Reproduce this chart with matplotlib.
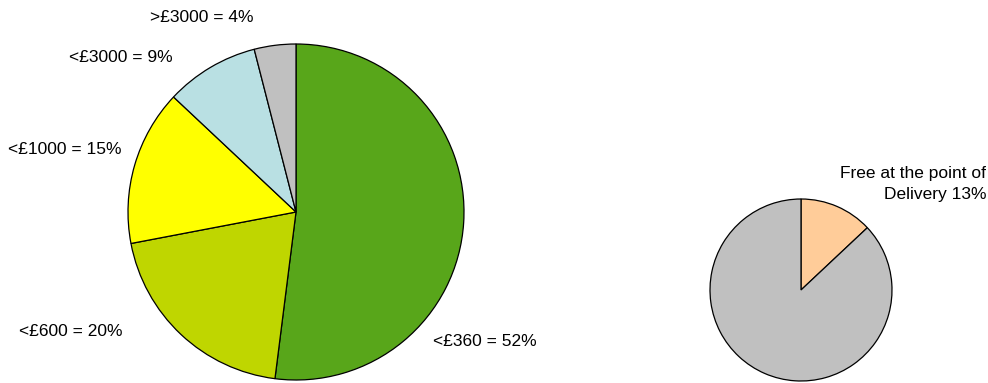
import matplotlib.pyplot as plt

# Price band shares (large pie), clockwise from 12 o'clock
bands = ["<£360", "<£600", "<£1000", "<£3000", ">£3000"]
band_pct = [52, 20, 15, 9, 4]
band_colors = ["#58a61a", "#bfd600", "#ffff00", "#b9e0e3", "#c0c0c0"]

# Free at the point of delivery (small pie)
free_label = "Free at the point of\nDelivery"
free_pct = [13, 87]
free_colors = ["#ffcc99", "#c0c0c0"]

plt.rcParams["font.family"] = ["Liberation Sans", "DejaVu Sans"]

W, H = 988, 383
fig = plt.figure(figsize=(W / 100, H / 100), dpi=100)
ax = fig.add_axes([0, 0, 1, 1])

wedge_style = {"edgecolor": "black", "linewidth": 0.9}

ax.pie(band_pct, colors=band_colors, startangle=90, counterclock=False,
       center=(296, H - 212), radius=168, wedgeprops=wedge_style, frame=True)
ax.pie(free_pct, colors=free_colors, startangle=90, counterclock=False,
       center=(801, H - 290), radius=91, wedgeprops=wedge_style, frame=True)

# label anchor points (left edge, vertical centre) in pixels
label_pos = {
    "<£360": (433, 342),
    "<£600": (19, 332),
    "<£1000": (8, 149),
    "<£3000": (69, 58),
    ">£3000": (150, 17),
}
for name, pct in zip(bands, band_pct):
    x, y = label_pos[name]
    ax.text(x, H - y, f"{name} = {pct}%", fontsize=12.5, ha="left", va="center")

ax.text(986, H - 184, f"{free_label} {free_pct[0]}%", fontsize=12.5,
        ha="right", va="center", multialignment="right", linespacing=1.5)

ax.set_xlim(0, W)
ax.set_ylim(0, H)
ax.axis("off")

fig.savefig("out.png", dpi=100, facecolor="white")
